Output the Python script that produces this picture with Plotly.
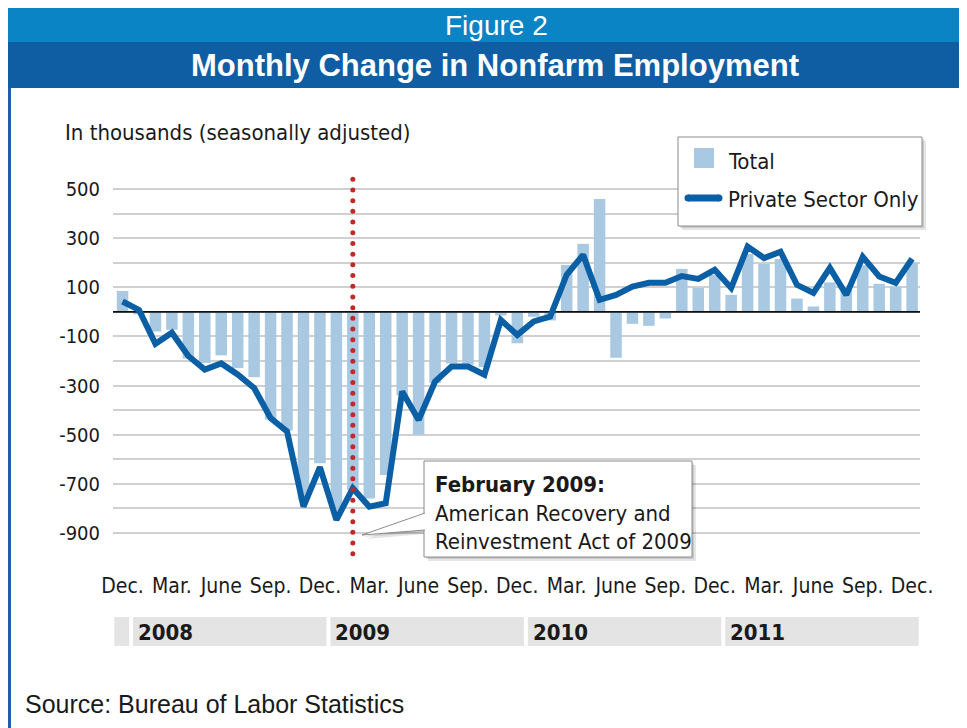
import plotly.graph_objects as go
import numpy as np

# ---------------- data ----------------
month_names = ["Jan", "Feb", "Mar", "Apr", "May", "Jun",
               "Jul", "Aug", "Sep", "Oct", "Nov", "Dec"]
years = ["2008", "2009", "2010", "2011"]
months = ["Dec 2007"] + [f"{m} {y}" for y in years for m in month_names]

# Total nonfarm, monthly change (thousands)
total = [85, -10, -80, -73, -190, -208, -177, -229, -266, -438, -483, -765, -616,
         -810, -725, -760, -664, -340, -500, -290, -210, -215, -225, -15, -128,
         -20, -35, 191, 277, 459, -187, -49, -57, -27, 175, 97, 150,
         69, 235, 195, 215, 54, 22, 120, 100, 190, 114, 103, 200]
# Private sector only, monthly change (thousands)
private = [42, 8, -130, -85, -180, -235, -210, -255, -310, -432, -487, -793, -632,
           -847, -718, -793, -779, -324, -440, -284, -223, -223, -256, -33, -94,
           -39, -19, 151, 232, 49, 69, 103, 118, 118, 146, 134, 171,
           97, 266, 219, 245, 110, 77, 179, 69, 224, 144, 118, 216]

tick_months = ["Dec 2007", "Mar 2008", "Jun 2008", "Sep 2008", "Dec 2008",
               "Mar 2009", "Jun 2009", "Sep 2009", "Dec 2009",
               "Mar 2010", "Jun 2010", "Sep 2010", "Dec 2010",
               "Mar 2011", "Jun 2011", "Sep 2011", "Dec 2011"]
tick_text = ["Dec.", "Mar.", "June", "Sep.", "Dec.", "Mar.", "June", "Sep.",
             "Dec.", "Mar.", "June", "Sep.", "Dec.", "Mar.", "June", "Sep.", "Dec."]
y_labels = [500, 300, 100, -100, -300, -500, -700, -900]
event_month = "Feb 2009"

# ---------------- layout geometry ----------------
# page has an 8px body margin; helpers take screen pixel coordinates
W, H = 967, 728
OFF = 8
L, T = 105, 170
PW, PH = 807, 377
R, B = W - L - PW, H - T - PH
X_RANGE = [-0.58, 48.48]
Y_RANGE = [-990, 545]


def fx(px):
    return (px - OFF - L) / PW


def fy(py):
    return (T + PH - (py - OFF)) / PH


NARROW = "DejaVu Sans Condensed, DejaVu Sans, sans-serif"
SANS = "Liberation Sans, Arial, sans-serif"
BAR_C = "#a9c9e3"
LINE_C = "#0b5fa5"
TXT = "#1a1a1a"

x = list(range(len(months)))
idx = {m: i for i, m in enumerate(months)}

fig = go.Figure()
fig.add_trace(go.Bar(x=x, y=total, width=0.7, marker=dict(color=BAR_C, line=dict(width=0)),
                     name="Total", showlegend=False))
# zero baseline drawn over the bars, under the line
fig.add_trace(go.Scatter(x=X_RANGE, y=[0, 0], mode="lines", line=dict(color="#111111", width=1.8),
                         hoverinfo="skip", showlegend=False))
fig.add_trace(go.Scatter(x=x, y=private, mode="lines", name="Private Sector Only",
                         line=dict(color=LINE_C, width=6), showlegend=False))

# red dotted marker line at Feb 2009
dots_y = np.linspace(540, -985, 36)
fig.add_trace(go.Scatter(x=[idx[event_month]] * len(dots_y), y=dots_y, mode="markers",
                         marker=dict(color="#c1272d", size=5), cliponaxis=False,
                         hoverinfo="skip", showlegend=False))

grid_vals = list(range(-900, 501, 100))
grid_text = [str(v) if v in y_labels else "" for v in grid_vals]

fig.update_layout(
    width=W, height=H, margin=dict(l=L, r=R, t=T, b=B),
    paper_bgcolor="white", plot_bgcolor="white", bargap=0.3,
    xaxis=dict(range=X_RANGE, showgrid=False, zeroline=False, showline=False,
               tickmode="array", tickvals=[idx[m] for m in tick_months], ticktext=tick_text,
               tickfont=dict(family=NARROW, size=21, color=TXT),
               ticks="", ticklabelstandoff=16, fixedrange=True),
    yaxis=dict(range=Y_RANGE, tickmode="array", tickvals=grid_vals, ticktext=grid_text,
               showgrid=True, gridcolor="#d0d0d0", gridwidth=1.5,
               zeroline=False,
               tickfont=dict(family=NARROW, size=20, color=TXT),
               ticks="", ticklabelstandoff=12, showline=False, fixedrange=True),
)

shapes = []
# header bands
shapes.append(dict(type="rect", xref="paper", yref="paper", x0=fx(8), x1=fx(980),
                   y0=fy(42), y1=fy(8), fillcolor="#0a84c4", line=dict(width=0)))
shapes.append(dict(type="rect", xref="paper", yref="paper", x0=fx(8), x1=fx(980),
                   y0=fy(88), y1=fy(42), fillcolor="#0f5ea3", line=dict(width=0)))
shapes.append(dict(type="line", xref="paper", yref="paper", x0=fx(9.5), x1=fx(9.5),
                   y0=fy(88), y1=fy(740), line=dict(color="#1f5fa8", width=3)))

# year bands
band_y0, band_y1 = fy(646), fy(617)
shapes.append(dict(type="rect", xref="x", yref="paper", x0=-0.5, x1=0.4,
                   y0=band_y0, y1=band_y1, fillcolor="#e4e4e4", line=dict(width=0)))
annotations = []
for y in years:
    first, last = idx[f"Jan {y}"], idx[f"Dec {y}"]
    shapes.append(dict(type="rect", xref="x", yref="paper", x0=first - 0.36, x1=last + 0.4,
                       y0=band_y0, y1=band_y1, fillcolor="#e4e4e4", line=dict(width=0)))
    annotations.append(dict(x=first - 0.36, y=fy(632), xref="x", yref="paper", text=f"<b>{y}</b>",
                            showarrow=False, xanchor="left", yanchor="middle", xshift=3,
                            font=dict(family=NARROW, size=22, color=TXT)))


def rect_px(x0, y0, x1, y1, **kw):
    d = dict(type="rect", xref="paper", yref="paper", x0=fx(x0), x1=fx(x1),
             y0=fy(y1), y1=fy(y0), layer="above")
    d.update(kw)
    return d


# callout box (shadow, box, pointer)
bx0, by0, bx1, by1 = 424, 461, 692, 557
for off, a in ((4, 0.10), (2, 0.12)):
    shapes.append(rect_px(bx0 + off, by0 + off, bx1 + off, by1 + off,
                          fillcolor=f"rgba(0,0,0,{a})", line=dict(width=0)))
    shapes.append(dict(type="path", xref="paper", yref="paper", layer="above",
                       path=f"M{fx(425)},{fy(513 + off)} L{fx(362 + off)},{fy(535 + off)} L{fx(425)},{fy(530 + off)} Z",
                       fillcolor=f"rgba(0,0,0,{a})", line=dict(width=0)))
shapes.append(rect_px(bx0, by0, bx1, by1, fillcolor="white", line=dict(color="#8c8c8c", width=1)))
shapes.append(dict(type="path", xref="paper", yref="paper", layer="above",
                   path=f"M{fx(425)},{fy(513)} L{fx(362)},{fy(535)} L{fx(425)},{fy(530)}",
                   fillcolor="white", line=dict(color="#8c8c8c", width=1)))

# legend box
lx0, ly0, lx1, ly1 = 678, 137, 922, 226
for off, a in ((4, 0.10), (2, 0.12)):
    shapes.append(rect_px(lx0 + off, ly0 + off, lx1 + off, ly1 + off,
                          fillcolor=f"rgba(0,0,0,{a})", line=dict(width=0)))
shapes.append(rect_px(lx0, ly0, lx1, ly1, fillcolor="white", line=dict(color="#8c8c8c", width=1)))
shapes.append(rect_px(694, 148, 714, 168, fillcolor=BAR_C, line=dict(width=0)))
shapes.append(dict(type="line", xref="paper", yref="paper", layer="above",
                   x0=fx(688), x1=fx(719), y0=fy(198), y1=fy(198),
                   line=dict(color=LINE_C, width=7)))
for cx in (688, 719):
    shapes.append(dict(type="circle", xref="paper", yref="paper", layer="above",
                       x0=fx(cx - 3.5), x1=fx(cx + 3.5), y0=fy(201.5), y1=fy(194.5),
                       fillcolor=LINE_C, line=dict(width=0)))


def text_px(px, py, text, size, family=NARROW, color=TXT, xanchor="left"):
    return dict(x=fx(px), y=fy(py), xref="paper", yref="paper", text=text, showarrow=False,
                xanchor=xanchor, yanchor="middle", font=dict(family=family, size=size, color=color))


annotations += [
    text_px(496, 25, "Figure 2", 28, SANS, "white", "center"),
    text_px(495, 65, "<b>Monthly Change in Nonfarm Employment</b>", 31, SANS, "white", "center"),
    text_px(63, 133, "In thousands (seasonally adjusted)", 22),
    text_px(726, 162, "Total", 22),
    text_px(726, 200, "Private Sector Only", 22),
    text_px(433, 484, "<b>February 2009:</b>", 22),
    text_px(433, 513, "American Recovery and", 22),
    text_px(433, 541, "Reinvestment Act of 2009", 22),
    text_px(23, 704, "Source: Bureau of Labor Statistics", 25, SANS, TXT),
]

fig.update_layout(shapes=shapes, annotations=annotations)
fig.write_html("out.html")
